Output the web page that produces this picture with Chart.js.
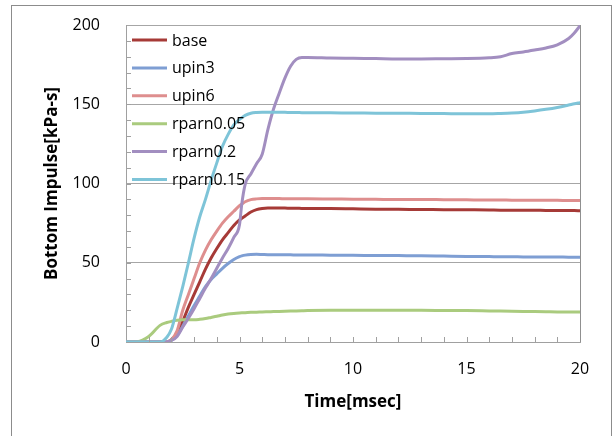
<!DOCTYPE html>
<html>
<head>
<meta charset="utf-8">
<script src="https://cdn.jsdelivr.net/npm/chart.js@4.4.1/dist/chart.umd.min.js"></script>
<style>
  body { margin: 0; background: #fff; }
  #wrap { width: 613px; height: 436px; }
</style>
</head>
<body>
<div id="wrap"><canvas id="c" width="613" height="436"></canvas></div>
<script>
// time axis [msec]
const T = [0, 0.5, 1, 1.5, 1.8, 2, 2.25, 2.5, 2.75, 3,
           3.25, 3.5, 3.75, 4, 4.25, 4.5, 4.75, 5, 5.1, 5.25,
           5.5, 5.75, 6, 6.25, 6.5, 6.75, 7, 7.25, 7.5, 7.75,
           8, 9, 10, 11, 12, 13, 14, 15, 16, 16.5,
           17, 17.5, 18, 18.5, 19, 19.5, 19.75, 20];

const base = [0, 0, 0, 0, 0, 1.5, 5, 13, 22, 30,
              38, 46, 53, 59, 64.5, 69, 73.5, 77, 78, 79.5,
              82, 83.5, 84.2, 84.5, 84.5, 84.5, 84.5, 84.4, 84.4, 84.3,
              84.3, 84.2, 84, 83.8, 83.7, 83.6, 83.5, 83.4, 83.3, 83.2,
              83.2, 83.1, 83.1, 83, 83, 82.9, 82.9, 82.8];

const upin3 = [0, 0, 0, 0, 0, 1, 4, 10, 16.5, 23,
               29, 35, 39.5, 43, 46.5, 49.5, 52, 53.8, 54.3, 54.8,
               55.2, 55.3, 55.2, 55.1, 55.1, 55, 55, 55, 54.9, 54.9,
               54.9, 54.8, 54.7, 54.6, 54.5, 54.4, 54.2, 54, 53.9, 53.8,
               53.8, 53.7, 53.7, 53.6, 53.6, 53.5, 53.5, 53.5];

const upin6 = [0, 0, 0, 0, 0, 1.5, 7, 20, 30, 40,
               50, 58, 64.5, 70, 75, 79, 82.5, 86, 87, 88.5,
               89.8, 90.3, 90.5, 90.5, 90.5, 90.5, 90.4, 90.4, 90.4, 90.4,
               90.3, 90.2, 90.1, 90, 89.9, 89.9, 89.8, 89.7, 89.6, 89.6,
               89.5, 89.5, 89.5, 89.4, 89.4, 89.3, 89.3, 89.3];

const rparn005 = [0, 0.2, 3.5, 10.5, 12.3, 13, 13.7, 14, 14, 14,
                  14.3, 14.8, 15.5, 16.2, 17, 17.6, 18, 18.3, 18.4, 18.5,
                  18.7, 18.8, 19, 19.1, 19.2, 19.3, 19.4, 19.5, 19.6, 19.7,
                  19.8, 20, 20.1, 20.1, 20, 20, 19.9, 19.8, 19.6, 19.5,
                  19.4, 19.3, 19.2, 19.1, 19, 19, 18.9, 18.9];

const rparn02 = [0, 0, 0, 0, 0, 1, 3.5, 9.5, 15, 21,
                 27.5, 34, 40, 46.5, 53, 59, 66, 74, 87, 99.5,
                 106, 112.5, 118.5, 134, 147, 157, 166.5, 174, 178.3, 179.5,
                 179.5, 179.2, 179, 178.8, 178.6, 178.6, 178.7, 178.8, 179.3, 180,
                 182, 183, 184.2, 185.5, 187.5, 191.5, 195, 199.5];

const rparn015 = [0, 0, 0, 0, 3, 8, 21, 35, 50, 65.5,
                  79, 90, 102, 113, 123.5, 131, 137, 140.5, 141.5, 143,
                  144.3, 144.8, 145, 145, 145, 144.9, 144.9, 144.8, 144.8, 144.7,
                  144.7, 144.6, 144.5, 144.4, 144.3, 144.2, 144.1, 144, 144, 144.2,
                  144.5, 145, 145.8, 146.8, 148, 149.5, 150.3, 151];

const names = ['base', 'upin3', 'upin6', 'rparn0.05', 'rparn0.2', 'rparn0.15'];
const values = [base, upin3, upin6, rparn005, rparn02, rparn015];
const colors = ['#A63A37', '#7E9ED3', '#DE8E8E', '#AACB7E', '#A28EC0', '#7EC4D8'];

const FONT = "'Open Sans', 'Noto Sans', sans-serif";

let datasets = [];
for (let i = 0; i < names.length; i++)
{
    datasets.push({
        label: names[i],
        data: T.map((t, k) => ({ x: t, y: values[i][k] })),
        borderColor: colors[i],
        backgroundColor: colors[i],
        borderWidth: 3,
        pointRadius: 0,
        cubicInterpolationMode: 'monotone',
        borderJoinStyle: 'round',
        borderCapStyle: 'round',
        order: names.length - i
    });
}

// background, outer frame, minor ticks, plot border, legend
const excelLook = {
    id: 'excelLook',
    beforeDraw(chart) {
        const ctx = chart.ctx;
        ctx.save();
        ctx.fillStyle = '#fff';
        ctx.fillRect(0, 0, chart.width, chart.height);
        ctx.strokeStyle = '#8C8C8C';
        ctx.lineWidth = 1;
        ctx.strokeRect(11.5, 5.5, 600, 440);
        ctx.restore();
    },
    afterDatasetsDraw(chart) {
        const ctx = chart.ctx;
        const a = chart.chartArea;
        const xs = chart.scales.x, ys = chart.scales.y;
        ctx.save();
        ctx.strokeStyle = '#A0A0A0';
        ctx.lineWidth = 1;
        ctx.beginPath();
        for (let t = 1; t < 20; t++) {
            const px = Math.round(xs.getPixelForValue(t)) + 0.5;
            ctx.moveTo(px, a.bottom);
            ctx.lineTo(px, a.bottom - 5);
        }
        for (let v = 10; v < 200; v += 10) {
            const py = Math.round(ys.getPixelForValue(v)) + 0.5;
            ctx.moveTo(a.left, py);
            ctx.lineTo(a.left + 5, py);
        }
        ctx.stroke();
        ctx.strokeStyle = '#909090';
        ctx.beginPath();
        ctx.moveTo(Math.round(a.right) + 0.5, a.top);
        ctx.lineTo(Math.round(a.right) + 0.5, a.bottom);
        ctx.stroke();

        // legend inside the plot
        ctx.font = '16px ' + FONT;
        ctx.textBaseline = 'middle';
        ctx.textAlign = 'left';
        chart.data.datasets.forEach((ds, i) => {
            const y = a.top + 15 + i * 27.9;
            ctx.strokeStyle = ds.borderColor;
            ctx.lineWidth = 3;
            ctx.beginPath();
            ctx.moveTo(a.left + 6, y);
            ctx.lineTo(a.left + 41, y);
            ctx.stroke();
            ctx.fillStyle = '#000';
            ctx.fillText(ds.label, a.left + 46, y + 1);
        });
        ctx.restore();
    }
};

new Chart(document.getElementById('c'), {
    type: 'line',
    data: { datasets: datasets },
    options: {
        responsive: false,
        animation: false,
        layout: { padding: { left: 0, top: 25, right: 33, bottom: 0 } },
        plugins: {
            legend: { display: false },
            tooltip: { enabled: false }
        },
        scales: {
            x: {
                type: 'linear',
                min: 0,
                max: 20,
                ticks: {
                    stepSize: 5,
                    color: '#000',
                    padding: 18,
                    maxRotation: 0,
                    font: { family: FONT, size: 16 }
                },
                grid: { display: false, drawTicks: false },
                border: { display: true, color: '#A0A0A0', width: 1 },
                title: {
                    display: true,
                    text: 'Time[msec]',
                    color: '#000',
                    padding: { top: 0, bottom: 24 },
                    font: { family: FONT, size: 17, weight: 'bold' }
                },
                afterFit(scale) {
                    scale.height = 94;
                    scale.paddingLeft = 0;
                    scale.paddingRight = 0;
                }
            },
            y: {
                min: 0,
                max: 200,
                ticks: {
                    stepSize: 50,
                    color: '#000',
                    padding: 26,
                    font: { family: FONT, size: 16 }
                },
                grid: { color: '#A6A6A6', drawTicks: false, lineWidth: 1 },
                border: { display: true, color: '#A0A0A0', width: 1 },
                title: {
                    display: true,
                    text: 'Bottom Impulse[kPa-s]',
                    color: '#000',
                    padding: { top: 42, bottom: 0 },
                    font: { family: FONT, size: 17, weight: 'bold' }
                },
                afterFit(scale) {
                    scale.width = 126;
                    scale.paddingTop = 0;
                    scale.paddingBottom = 0;
                }
            }
        }
    },
    plugins: [excelLook]
});
</script>
</body>
</html>
